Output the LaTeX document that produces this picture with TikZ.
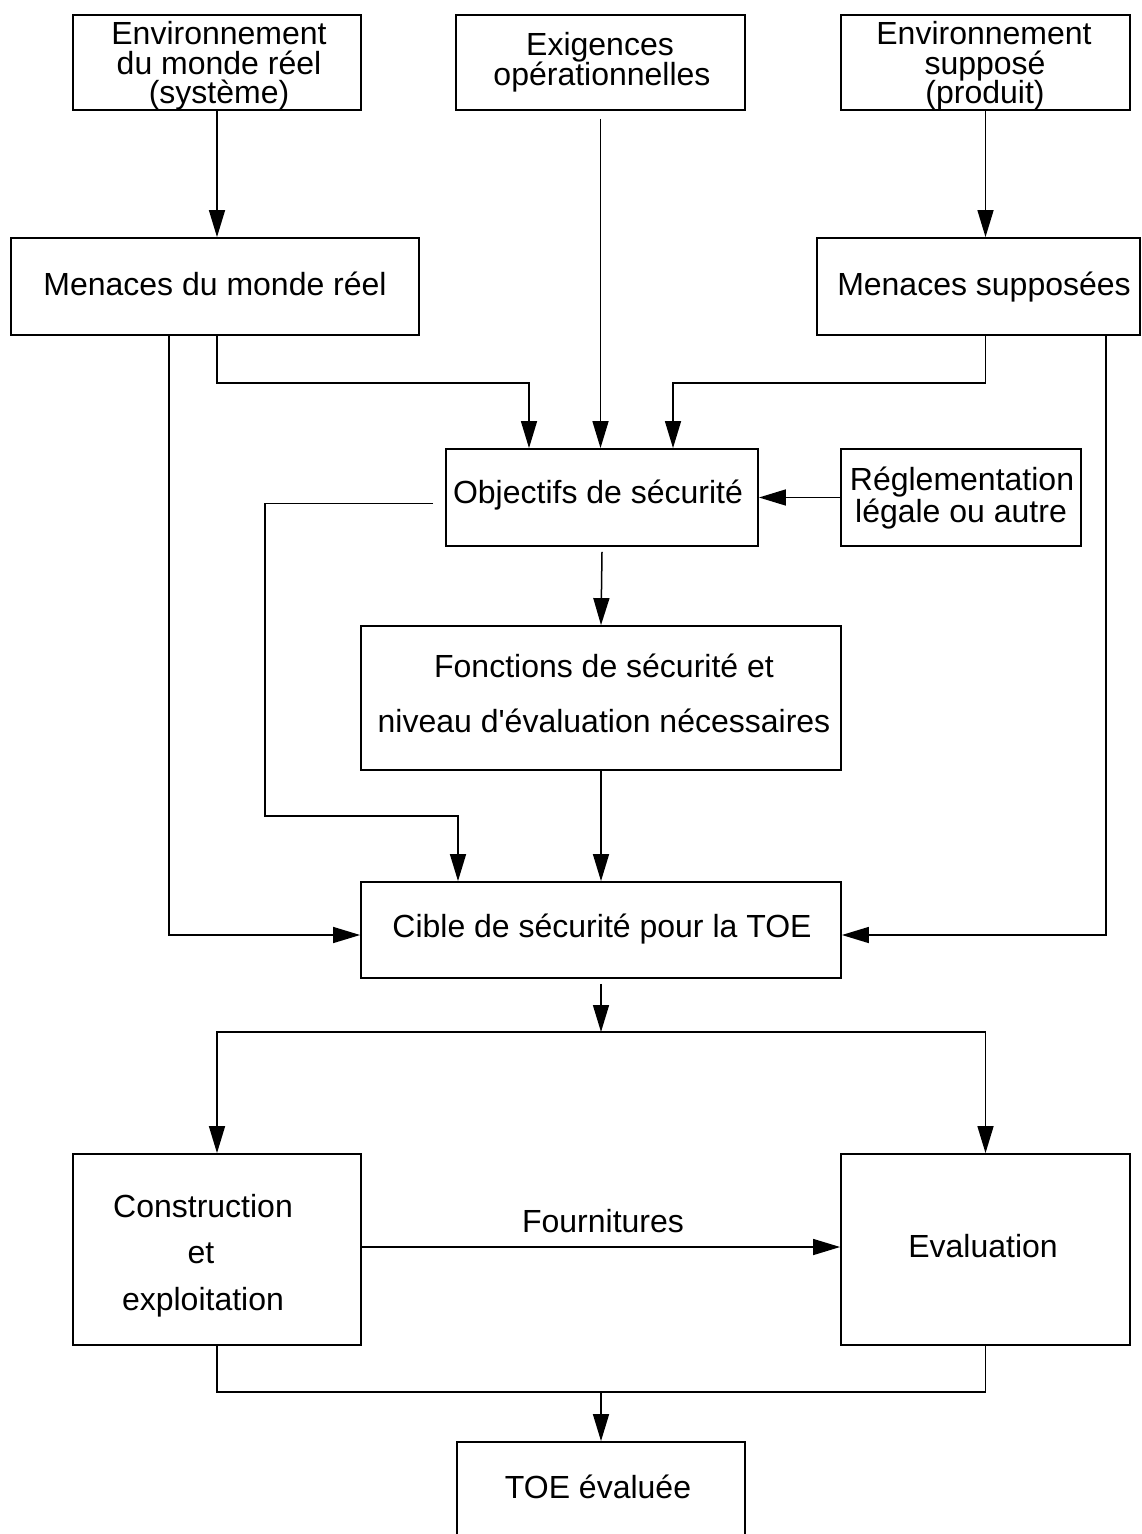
\documentclass[tikz,border=0pt]{standalone}
\usepackage{fontspec}
\setmainfont{Liberation Sans}
\newfontfamily\arialf{Liberation Sans}
\usetikzlibrary{arrows.meta}
\begin{document}
\begin{tikzpicture}[x=0.5pt,y=-0.5pt,
  box/.style={draw, line width=0.9pt, inner sep=0pt},
  txt/.style={font=\arialf\fontsize{16pt}{19pt}\selectfont, inner sep=0pt, anchor=base},
  arr/.style={line width=0.75pt, -{Triangle[length=13.5pt,width=8pt]}},
  ln/.style={line width=0.75pt}]
\useasboundingbox (0,0) rectangle (1141,1534);
\fill[white] (0,0) rectangle (1141,1534);

% boxes
\node[box, minimum width=144pt, minimum height=47.5pt] (env1) at (217,62.5) {};
\node[box, minimum width=144.5pt, minimum height=47.5pt] (exig) at (600.5,62.5) {};
\node[box, minimum width=144.5pt, minimum height=47.5pt] (env2) at (985.5,62.5) {};
\node[box, minimum width=204pt, minimum height=48.5pt] (men1) at (215,286.5) {};
\node[box, minimum width=161.5pt, minimum height=48.5pt] (men2) at (978.5,286.5) {};
\node[box, minimum width=156pt, minimum height=48.5pt] (obj) at (602,497.5) {};
\node[box, minimum width=120pt, minimum height=48.5pt] (regl) at (961,497.5) {};
\node[box, minimum width=240pt, minimum height=72pt] (fonc) at (601,698) {};
\node[box, minimum width=240pt, minimum height=48pt] (cible) at (601,930) {};
\node[box, minimum width=144pt, minimum height=95.5pt] (cons) at (217,1249.5) {};
\node[box, minimum width=144.5pt, minimum height=95.5pt] (eval) at (985.5,1249.5) {};
\node[box, minimum width=144pt, minimum height=51.5pt] (toe) at (601,1493.5) {};

% texts
\node[txt] (t1a) at (219,45) {Environnement};
\node[txt] (t1b) at (219,75) {du monde réel};
\node[txt] (t1c) at (219,104) {(système)};
\node[txt] (t2a) at (600,56) {Exigences};
\node[txt] (t2b) at (602,86) {opérationnelles};
\node[txt] (t3a) at (984,45) {Environnement};
\node[txt] (t3b) at (985,75) {supposé};
\node[txt] (t3c) at (985,104) {(produit)};
\node[txt] (t4) at (215,296) {Menaces du monde réel};
\node[txt] (t5) at (984,296) {Menaces supposées};
\node[txt] (t6) at (598,503) {Objectifs de sécurité};
\node[txt] (t7a) at (962,490) {Réglementation};
\node[txt] (t7b) at (961,522) {légale ou autre};
\node[txt] (t8a) at (604,677) {Fonctions de sécurité et};
\node[txt] (t8b) at (604,732) {niveau d'évaluation nécessaires};
\node[txt] (t9) at (602,937) {Cible de sécurité pour la TOE};
\node[txt] (t10a) at (203,1217) {Construction};
\node[txt] (t10b) at (201,1263) {et};
\node[txt] (t10c) at (203,1310) {exploitation};
\node[txt] (t11) at (983,1257) {Evaluation};
\node[txt] (t12) at (603,1232) {Fournitures};
\node[txt] (t13) at (598,1498) {TOE évaluée};

% connectors
\draw[arr] (env1.south) -- (men1.north -| env1.south);
\draw[arr] ([yshift=-4pt]exig.south) -- (obj.north -| exig.south);
\draw[arr] (env2.south) -- (men2.north -| env2.south);
\draw[arr] (men1.south -| env1.south) |- (529,383) -- (obj.north -| 529,0);
\draw[arr] (men2.south -| env2.south) |- (673,383) -- (obj.north -| 673,0);
\draw[arr] (men1.south -| 169,0) |- ([yshift=-2.5pt]cible.west);
\draw[arr] (men2.south -| 1106,0) |- ([yshift=-2.5pt]cible.east);
\draw[arr] (regl.west) -- (obj.east);
\draw[arr] ([xshift=-6pt,yshift=-3pt]obj.west) -| (265,816) -| (cible.north -| 458,0);
\draw[arr] ([yshift=-2.5pt]obj.south) -- (fonc.north);
\draw[arr] (fonc.south) -- (cible.north);
\coordinate (split) at (601,1032);
\draw[arr] ([yshift=-2.5pt]cible.south) -- (split);
\draw[arr] (split) -| (cons.north);
\draw[arr] (split) -| (eval.north);
\draw[arr] ([yshift=1.25pt]cons.east) -- ([yshift=1.25pt]eval.west);
\coordinate (join) at (601,1392);
\draw[ln] (cons.south) |- (join);
\draw[ln] (eval.south) |- (join);
\draw[arr] (join) -- (toe.north);
\end{tikzpicture}
\end{document}
